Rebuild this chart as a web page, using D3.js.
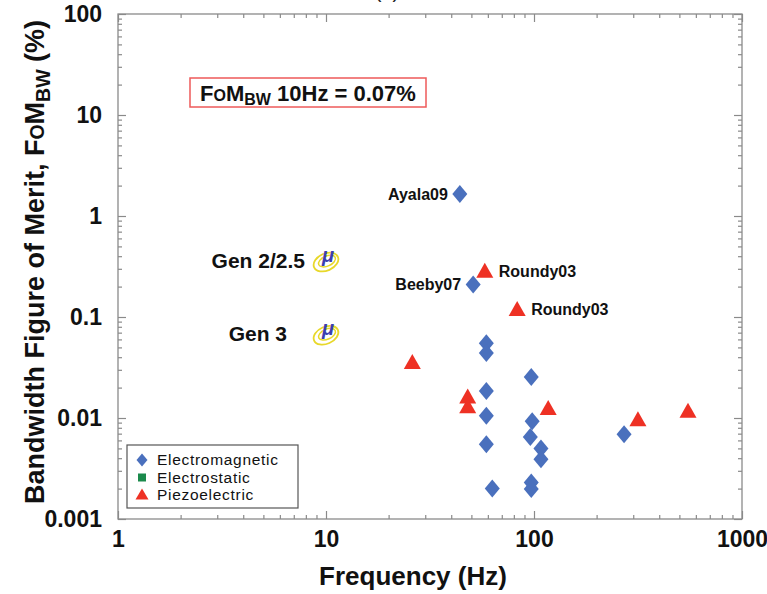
<!DOCTYPE html>
<html>
<head>
<meta charset="utf-8">
<script src="https://cdn.jsdelivr.net/npm/d3@7"></script>
<style>
  html, body { margin: 0; padding: 0; background: #fff; }
  svg { display: block; font-family: "Liberation Sans", Arial, sans-serif; }
</style>
</head>
<body>
<svg id="chart" width="767" height="594"></svg>
<script>
// Bandwidth figure of merit versus frequency for vibration energy harvesters

const xTickValues = [1, 10, 100, 1000];
const xTickLabels = ["1", "10", "100", "1000"];
const yTickValues = [0.001, 0.01, 0.1, 1, 10, 100];
const yTickLabels = ["0.001", "0.01", "0.1", "1", "10", "100"];

// Electromagnetic devices: frequency (Hz), FoM_BW (%), optional label
const emFreq  = [44, 51, 59, 59, 97, 59, 59, 98, 96, 271, 59, 108, 108, 63, 97, 97];
const emValue = [1.65, 0.21, 0.055, 0.044, 0.0255, 0.0185, 0.0105, 0.0093, 0.0065, 0.0069, 0.0055, 0.0050, 0.0039, 0.0020, 0.0023, 0.00198];
const emLabel = ["Ayala09", "Beeby07", "", "", "", "", "", "", "", "", "", "", "", "", "", ""];

// Piezoelectric devices
const pzFreq  = [58, 83, 26, 48, 48, 117, 316, 550];
const pzValue = [0.28, 0.117, 0.035, 0.016, 0.0128, 0.0123, 0.0095, 0.0115];
const pzLabel = ["Roundy03", "Roundy03", "", "", "", "", "", ""];

// Electrostatic devices (legend entry only)
const esFreq  = [];
const esValue = [];

// Own generations, both at 10 Hz
const genFreq  = [10, 10];
const genValue = [0.35, 0.066];
const genLabel = ["Gen 2/2.5", "Gen 3"];

const legendNames = ["Electromagnetic", "Electrostatic", "Piezoelectric"];

const colEM = "#4a70bd";
const colES = "#1b8a4c";
const colPZ = "#ee3124";

const svg = d3.select("#chart");
const L = 118, R = 742, T = 14, B = 519;

const x = d3.scaleLog().domain([1, 1000]).range([L, R]);
const y = d3.scaleLog().domain([0.001, 100]).range([B, T]);

// panel title, mostly above the top edge
svg.append("text").attr("x", 387).attr("y", -2).attr("text-anchor", "middle")
  .attr("font-size", 20).attr("fill", "#222").text("(a)");

// frame
svg.append("rect").attr("x", L).attr("y", T).attr("width", R - L).attr("height", B - T)
  .attr("fill", "none").attr("stroke", "#8a8a8a").attr("stroke-width", 1.3);

const minorX = x.ticks().filter(v => !xTickValues.includes(v));
const minorY = y.ticks().filter(v => !yTickValues.some(t => Math.abs(t - v) / v < 1e-6));

function styleAxis(g) {
  g.select(".domain").remove();
  g.selectAll("line").attr("stroke", "#8a8a8a").attr("stroke-width", 1.2);
}
function styleLabels(g) {
  g.selectAll("text").attr("font-size", 23).attr("font-weight", "bold")
    .attr("fill", "#111").attr("font-family", "Liberation Sans, Arial, sans-serif");
}

// inward ticks on all four sides
svg.append("g").attr("transform", `translate(0,${B})`)
  .call(d3.axisBottom(x).tickValues(minorX).tickSize(-4).tickFormat(""))
  .call(styleAxis);
svg.append("g").attr("transform", `translate(0,${B})`)
  .call(d3.axisBottom(x).tickValues(xTickValues).tickSize(-8).tickPadding(12)
    .tickFormat((d, i) => xTickLabels[i]))
  .call(styleAxis).call(styleLabels);
svg.append("g").attr("transform", `translate(0,${T})`)
  .call(d3.axisTop(x).tickValues(minorX).tickSize(-4).tickFormat(""))
  .call(styleAxis);
svg.append("g").attr("transform", `translate(0,${T})`)
  .call(d3.axisTop(x).tickValues(xTickValues).tickSize(-8).tickFormat(""))
  .call(styleAxis);

svg.append("g").attr("transform", `translate(${L},0)`)
  .call(d3.axisLeft(y).tickValues(minorY).tickSize(-4).tickFormat(""))
  .call(styleAxis);
svg.append("g").attr("transform", `translate(${L},0)`)
  .call(d3.axisLeft(y).tickValues(yTickValues).tickSize(-8).tickPadding(16)
    .tickFormat((d, i) => yTickLabels[i]))
  .call(styleAxis).call(styleLabels);
svg.append("g").attr("transform", `translate(${R},0)`)
  .call(d3.axisRight(y).tickValues(minorY).tickSize(-4).tickFormat(""))
  .call(styleAxis);
svg.append("g").attr("transform", `translate(${R},0)`)
  .call(d3.axisRight(y).tickValues(yTickValues).tickSize(-8).tickFormat(""))
  .call(styleAxis);

// axis titles
svg.append("text").attr("x", 413).attr("y", 585).attr("text-anchor", "middle")
  .attr("font-size", 26).attr("font-weight", "bold").attr("fill", "#111")
  .text("Frequency (Hz)");

const yt = svg.append("text").attr("transform", "translate(44,262) rotate(-90)")
  .attr("text-anchor", "middle").attr("font-size", 27).attr("font-weight", "bold").attr("fill", "#111");
yt.append("tspan").text("Bandwidth Figure of Merit, F");
yt.append("tspan").attr("font-size", 19.5).text("O");
yt.append("tspan").text("M");
yt.append("tspan").attr("font-size", 19.5).attr("dy", 6).text("BW");
yt.append("tspan").attr("dy", -6).text(" (%)");

// marker shapes
const diamondPath = (w, h) => `M0,${-h / 2}L${w / 2},0L0,${h / 2}L${-w / 2},0Z`;
const trianglePath = (w, h) => `M0,${-h * 0.6}L${w / 2},${h * 0.4}L${-w / 2},${h * 0.4}Z`;

const em = emFreq.map((f, i) => ({ f, v: emValue[i], label: emLabel[i] }));
const pz = pzFreq.map((f, i) => ({ f, v: pzValue[i], label: pzLabel[i] }));
const es = esFreq.map((f, i) => ({ f, v: esValue[i] }));

svg.append("g").selectAll("path").data(em).join("path")
  .attr("d", diamondPath(15, 18)).attr("fill", colEM)
  .attr("transform", d => `translate(${x(d.f)},${y(d.v)})`);
svg.append("g").selectAll("rect").data(es).join("rect")
  .attr("x", -4).attr("y", -4).attr("width", 8).attr("height", 8).attr("fill", colES)
  .attr("transform", d => `translate(${x(d.f)},${y(d.v)})`);
svg.append("g").selectAll("path").data(pz).join("path")
  .attr("d", trianglePath(17, 15)).attr("fill", colPZ)
  .attr("transform", d => `translate(${x(d.f)},${y(d.v)})`);

// point labels
svg.append("g").selectAll("text").data(em.filter(d => d.label)).join("text")
  .attr("x", d => x(d.f) - 12).attr("y", d => y(d.v) + 6)
  .attr("text-anchor", "end").attr("font-size", 16).attr("font-weight", "bold").attr("fill", "#111")
  .text(d => d.label);
svg.append("g").selectAll("text").data(pz.filter(d => d.label)).join("text")
  .attr("x", d => x(d.f) + 14).attr("y", d => y(d.v) + 5)
  .attr("text-anchor", "start").attr("font-size", 16).attr("font-weight", "bold").attr("fill", "#111")
  .text(d => d.label);

// generation icons: yellow rings with a blue micro sign
const gen = genFreq.map((f, i) => ({ f, v: genValue[i], label: genLabel[i] }));
const gg = svg.append("g").selectAll("g").data(gen).join("g")
  .attr("transform", d => `translate(${x(d.f)},${y(d.v)})`);
gg.append("ellipse").attr("rx", 13).attr("ry", 8.5).attr("transform", "rotate(-24)")
  .attr("fill", "none").attr("stroke", "#e8d82a").attr("stroke-width", 1.8);
gg.append("ellipse").attr("rx", 9).attr("ry", 5).attr("transform", "translate(1,-1) rotate(-24)")
  .attr("fill", "none").attr("stroke", "#e8d82a").attr("stroke-width", 1.5);
gg.append("text").attr("x", 2).attr("y", 0).attr("text-anchor", "middle")
  .attr("font-size", 20).attr("font-weight", "bold").attr("font-style", "italic")
  .attr("fill", "#3b3fb0").text("μ");
gg.append("text").attr("x", d => d.label === "Gen 3" ? -39 : -21).attr("y", 6)
  .attr("text-anchor", "end").attr("font-size", 21).attr("font-weight", "bold").attr("fill", "#111")
  .text(d => d.label);

// annotation box
svg.append("rect").attr("x", 190).attr("y", 78).attr("width", 236).attr("height", 29)
  .attr("fill", "#fff").attr("stroke", "#ee5a5a").attr("stroke-width", 1.5);
const ann = svg.append("text").attr("x", 308).attr("y", 101).attr("text-anchor", "middle")
  .attr("font-size", 22).attr("font-weight", "bold").attr("fill", "#111");
ann.append("tspan").text("F");
ann.append("tspan").attr("font-size", 16).text("O");
ann.append("tspan").text("M");
ann.append("tspan").attr("font-size", 16).attr("dy", 4).text("BW");
ann.append("tspan").attr("dy", -4).text(" 10Hz = 0.07%");

// legend
const lg = svg.append("g").attr("transform", "translate(127,445)");
lg.append("rect").attr("width", 171).attr("height", 63)
  .attr("fill", "#fff").attr("stroke", "#555").attr("stroke-width", 1.2);
const legendShapes = [
  { name: legendNames[0], d: diamondPath(11, 13), col: colEM },
  { name: legendNames[1], d: "M-4,-4H4V4H-4Z", col: colES },
  { name: legendNames[2], d: trianglePath(13, 11), col: colPZ }
];
const li = lg.selectAll("g").data(legendShapes).join("g")
  .attr("transform", (d, i) => `translate(0,${14 + i * 17.5})`);
li.append("path").attr("d", d => d.d).attr("fill", d => d.col)
  .attr("transform", "translate(15,1)");
li.append("text").attr("x", 30).attr("y", 6).attr("font-size", 15.5)
  .attr("letter-spacing", 0.7).attr("fill", "#111")
  .text(d => d.name);
</script>
</body>
</html>
